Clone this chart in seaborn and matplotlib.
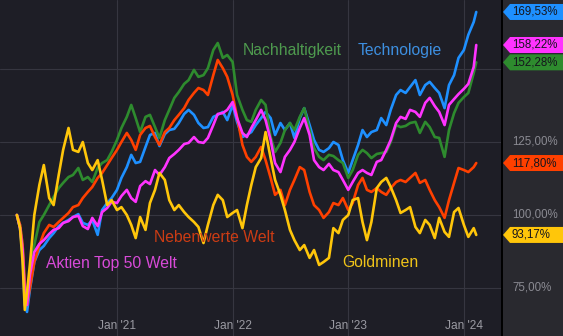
import pandas as pd
import matplotlib
matplotlib.use("Agg")
import matplotlib.pyplot as plt
import matplotlib.transforms as mtransforms
from matplotlib.patches import Polygon
import seaborn as sns

# ---------------- data (performance in %, start = 100) ----------------
DATES = (["2020-02-20", "2020-03-01", "2020-03-09", "2020-03-16", "2020-03-23"]
         + [d.strftime("%Y-%m-%d") for d in pd.date_range("2020-04-01", "2024-02-01", freq="SMS")]
         + ["2024-02-09"])

GOLD = [100.0, 95.5, 83.9, 67.5, 73.6, 82.9, 100.0, 110.3, 117.1, 105.8, 103.4, 113.7, 122.3, 129.8, 122.3, 121.6, 125.0, 117.8, 115.4, 118.8, 112.0, 103.4, 105.1,
        101.7, 102.7, 100.0, 96.6, 92.1, 99.3, 94.9, 104.1, 108.6, 114.4, 112.0, 105.1, 101.7, 103.4, 101.0, 99.3, 97.6, 95.9, 90.4, 96.6, 103.4, 106.9, 105.1, 99.3,
        100.7, 101.7, 95.5, 103.4, 110.3, 116.4, 119.5, 128.4, 119.5, 112.0, 106.9, 101.7, 94.9, 91.4, 88.0, 89.7, 85.3, 88.0, 82.9, 83.9, 85.3, 95.5, 93.8, 98.3,
        100.0, 105.1, 105.8, 97.6, 91.4, 97.6, 109.2, 111.3, 112.7, 109.6, 105.1, 100.7, 101.7, 102.7, 95.9, 93.8, 98.3, 96.6, 92.1, 99.0, 94.2, 92.5, 101.0, 102.4,
        96.6, 92.5, 95.5, 93.17]

NEBEN = [100.0, 96.6, 89.7, 76.0, 69.2, 75.0, 83.9, 89.7, 93.8, 96.6, 95.9, 97.6, 99.0, 100.7, 102.7, 103.4, 105.8, 107.9, 109.6, 112.7, 114.4, 117.1, 119.5,
         122.3, 125.0, 128.1, 125.7, 122.3, 127.4, 129.8, 130.5, 126.7, 124.0, 128.4, 129.8, 132.5, 134.3, 136.6, 139.4, 141.8, 143.5, 142.8, 141.1, 147.9, 153.1, 150.3, 147.3,
         141.1, 133.6, 124.0, 119.9, 118.2, 119.9, 123.3, 118.8, 112.7, 106.9, 108.6, 103.4, 108.6, 112.0, 116.4, 115.4, 107.9, 103.4, 101.7, 99.0, 101.0, 104.1, 103.4, 105.8,
         101.7, 104.1, 110.3, 112.7, 108.6, 107.9, 109.2, 107.9, 106.9, 109.2, 111.3, 112.0, 111.3, 112.7, 114.4, 111.0, 112.0, 108.6, 105.1, 102.7, 99.0, 105.1, 111.0, 116.1,
         115.4, 114.7, 116.4, 117.80]

GREEN = [100.0, 96.6, 89.7, 76.0, 70.9, 79.5, 89.7, 97.6, 100.0, 103.4, 106.2, 109.2, 111.0, 113.0, 113.7, 116.1, 112.0, 113.0, 111.3, 116.1, 117.8, 118.8, 121.6,
         125.7, 129.8, 133.6, 137.7, 133.2, 128.4, 133.6, 134.3, 130.1, 126.4, 132.5, 136.0, 140.1, 142.1, 144.9, 146.2, 149.7, 147.3, 147.9, 150.3, 156.5, 158.9, 153.8, 154.8,
         152.4, 141.1, 136.0, 132.5, 131.9, 136.0, 139.4, 137.7, 126.7, 121.6, 124.7, 129.1, 131.5, 129.1, 133.6, 136.6, 129.1, 122.9, 119.9, 118.8, 120.6, 120.2, 118.8, 117.8,
         112.7, 115.4, 120.6, 122.3, 121.2, 119.5, 120.9, 121.2, 121.6, 125.0, 130.8, 130.1, 130.5, 131.5, 131.9, 128.1, 131.9, 130.1, 126.7, 126.4, 119.9, 129.1, 134.9, 138.4,
         140.4, 141.8, 148.6, 152.28]

TECH = [100.0, 95.5, 86.3, 69.2, 66.8, 74.3, 83.9, 88.0, 89.4, 92.1, 93.8, 96.2, 97.3, 98.3, 99.3, 100.3, 97.3, 96.6, 98.3, 93.2, 101.7, 104.1, 105.8,
        108.6, 112.7, 116.4, 120.6, 117.8, 118.2, 123.3, 127.4, 128.1, 123.6, 127.7, 129.1, 129.5, 131.5, 134.6, 136.0, 134.3, 131.5, 129.8, 130.1, 133.6, 134.3, 135.3, 132.5,
        137.7, 131.9, 126.7, 127.4, 128.4, 130.8, 133.2, 135.3, 133.2, 127.4, 131.5, 129.1, 131.5, 126.4, 133.2, 136.6, 130.8, 125.7, 122.3, 121.6, 122.9, 125.0, 124.0, 118.8,
        114.4, 118.8, 124.0, 129.1, 126.7, 128.4, 129.1, 133.2, 130.8, 136.0, 141.1, 142.8, 141.8, 143.8, 146.2, 141.1, 144.5, 145.6, 143.5, 141.8, 136.6, 144.5, 147.9, 153.8,
        156.5, 161.7, 166.1, 169.53]

TOP50 = [100.0, 95.5, 88.0, 72.6, 69.2, 79.5, 87.3, 90.1, 91.4, 93.5, 94.9, 95.5, 97.3, 97.9, 99.3, 99.7, 96.2, 95.2, 99.0, 96.2, 101.0, 102.4, 104.5,
         104.1, 106.5, 108.6, 105.8, 104.5, 109.9, 111.6, 110.6, 115.4, 113.7, 116.4, 119.5, 120.9, 122.3, 124.3, 124.7, 126.7, 125.0, 124.7, 126.4, 130.8, 134.6, 134.9, 136.0,
         138.7, 133.2, 128.1, 126.7, 129.8, 132.5, 136.0, 132.5, 125.7, 117.8, 114.7, 119.9, 122.3, 125.0, 129.8, 133.2, 127.4, 118.8, 116.4, 115.4, 117.5, 115.4, 114.7, 112.0,
         108.6, 111.3, 114.4, 115.4, 114.4, 113.7, 118.2, 118.8, 122.3, 125.7, 131.5, 133.6, 132.9, 136.0, 135.3, 133.6, 138.4, 140.1, 137.3, 135.3, 130.8, 137.7, 139.7, 141.4,
         143.2, 144.9, 150.7, 158.22]

SERIES = ["Technologie", "Nachhaltigkeit", "Nebenwerte Welt", "Aktien Top 50 Welt", "Goldminen"]
VALUES = [TECH, GREEN, NEBEN, TOP50, GOLD]
Y_TICKS = [75, 100, 125, 150]
Y_TICK_LABELS = ["75,00%", "100,00%", "125,00%"]
X_TICKS = ["2021-01-01", "2022-01-01", "2023-01-01", "2024-01-01"]
X_TICK_LABELS = ["Jan '21", "Jan '22", "Jan '23", "Jan '24"]

# ---------------- style ----------------
LINE_COLORS = {"Technologie": "#1e90ff", "Nachhaltigkeit": "#2e8b2e",
               "Nebenwerte Welt": "#ff4000", "Aktien Top 50 Welt": "#ff33ff",
               "Goldminen": "#ffc60a"}
LABEL_COLORS = {"Technologie": "#3d8fe0", "Nachhaltigkeit": "#4e9a4e",
                "Nebenwerte Welt": "#cc3c14", "Aktien Top 50 Welt": "#d84ad8",
                "Goldminen": "#f0c419"}
BG = "#1e1e26"
PANEL = "#29292f"
GRID = "#363640"
TICK = "#8a8a92"

sns.set_style("dark")
plt.rcParams["font.family"] = ["Liberation Sans", "DejaVu Sans"]

W, H = 563, 336
SPLIT = 502
fig = plt.figure(figsize=(W / 100, H / 100), dpi=100)
fig.patch.set_facecolor(BG)
ax = fig.add_axes([0, 0, SPLIT / W, 1])
rax = fig.add_axes([SPLIT / W, 0, 1 - SPLIT / W, 1])
ax.set_facecolor(BG)
rax.set_facecolor(PANEL)

df = pd.concat([pd.DataFrame({"date": pd.to_datetime(DATES), "value": v, "series": s})
                for s, v in zip(SERIES, VALUES)], ignore_index=True)

sns.lineplot(data=df, x="date", y="value", hue="series", hue_order=SERIES,
             palette=LINE_COLORS, linewidth=1.9, legend=False, errorbar=None,
             ax=ax)

YLIM = (58.56, 173.63)
ax.set_xlim(pd.Timestamp("2019-12-28 17:00"), pd.Timestamp("2024-04-30 07:00"))
ax.set_ylim(*YLIM)
ax.set_yticks(Y_TICKS)
ax.set_xticks(pd.to_datetime(X_TICKS))
ax.grid(True, color=GRID, linewidth=0.8)
ax.tick_params(length=0, labelbottom=False, labelleft=False)
ax.set_xlabel("")
ax.set_ylabel("")
for sp in ax.spines.values():
    sp.set_visible(False)

# x tick labels inside plot
xtrans = ax.get_xaxis_transform()
for d, lab in zip(pd.to_datetime(X_TICKS), X_TICK_LABELS):
    ax.text(d, 10 / H, lab, transform=xtrans, ha="center", va="center",
            color="#9a9aa2", fontsize=8.6)

# series name labels
LABEL_POS = {"Nachhaltigkeit": (243, 55), "Technologie": (358, 55),
             "Nebenwerte Welt": (154, 242), "Goldminen": (342, 267),
             "Aktien Top 50 Welt": (46, 268)}
for s, (px, py) in LABEL_POS.items():
    ax.text(px / SPLIT, 1 - py / H, s, transform=ax.transAxes, ha="left",
            va="baseline", color=LABEL_COLORS[s], fontsize=11.3)

# right panel
rax.set_xlim(0, 1)
rax.set_ylim(*YLIM)
rax.set_xticks([])
rax.set_yticks([])
for k, sp in rax.spines.items():
    sp.set_visible(k == "left")
rax.spines["left"].set_color("black")
rax.spines["left"].set_linewidth(1.4)
rax.spines["left"].set_zorder(6)

rtrans = mtransforms.blended_transform_factory(rax.transAxes, rax.transData)
PW = W - SPLIT
for v, lab in zip([75, 100, 125], Y_TICK_LABELS):
    rax.text(10 / PW, v, lab, transform=rtrans, ha="left", va="center",
             color=TICK, fontsize=8.3)

ident = mtransforms.IdentityTransform()
for s, vals in zip(SERIES, VALUES):
    last = vals[-1]
    yc = rax.transData.transform((0, last))[1]
    pts = [(SPLIT + 1, yc), (SPLIT + 8, yc + 8), (W, yc + 8), (W, yc - 8), (SPLIT + 8, yc - 8)]
    rax.add_patch(Polygon(pts, closed=True, transform=ident, clip_on=False,
                          facecolor=LINE_COLORS[s], edgecolor="none", zorder=2))
    txt = f"{last:.2f}".replace(".", ",") + "%"
    rax.text(10 / PW, last, txt, transform=rtrans, ha="left", va="center",
             color="#15151d", fontsize=8.3, zorder=5)

fig.savefig("out.png", dpi=100, facecolor=fig.get_facecolor())
